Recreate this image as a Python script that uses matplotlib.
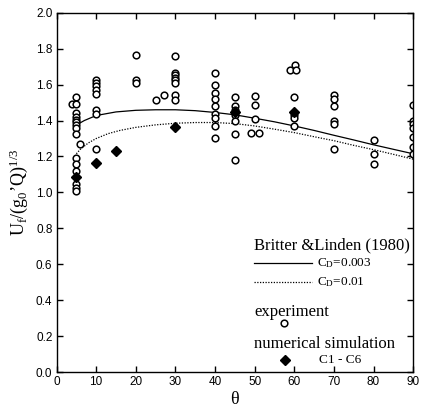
import numpy as np
import matplotlib
matplotlib.use("Agg")
import matplotlib.pyplot as plt

plt.rcParams['font.family'] = ['Liberation Serif', 'DejaVu Serif']
plt.rcParams['mathtext.fontset'] = 'custom'
plt.rcParams['mathtext.rm'] = 'Liberation Serif'
plt.rcParams['mathtext.it'] = 'Liberation Serif:italic'

# experiment (open circles)
exp_theta = [4, 5, 5, 5, 5, 5, 5, 5, 5, 5, 5, 5, 5, 5, 5, 5, 6,
             10, 10, 10, 10, 10, 10, 10, 10,
             20, 20, 20, 25, 27,
             30, 30, 30, 30, 30, 30, 30, 30,
             40, 40, 40, 40, 40, 40, 40, 40, 40,
             45, 45, 45, 45, 45, 45, 45,
             50, 50, 50, 49, 51,
             60.3, 58.8, 60.5, 60, 60, 60, 60,
             70, 70, 70, 70, 70, 70,
             80, 80, 80,
             90, 90, 90, 90, 90, 90, 90]
exp_u = [1.494, 1.533, 1.494, 1.441, 1.419, 1.404, 1.391, 1.377, 1.36, 1.326,
         1.192, 1.159, 1.121, 1.047, 1.025, 1.008, 1.27,
         1.628, 1.609, 1.591, 1.572, 1.55, 1.456, 1.438, 1.239,
         1.767, 1.628, 1.609, 1.512, 1.54,
         1.758, 1.665, 1.652, 1.637, 1.624, 1.609, 1.54, 1.516,
         1.665, 1.596, 1.553, 1.522, 1.479, 1.438, 1.416, 1.367, 1.304,
         1.531, 1.479, 1.456, 1.43, 1.40, 1.326, 1.181,
         1.535, 1.484, 1.406, 1.33, 1.33,
         1.708, 1.682, 1.682, 1.531, 1.43, 1.416, 1.367,
         1.54, 1.52, 1.479, 1.397, 1.382, 1.24,
         1.293, 1.215, 1.159,
         1.484, 1.397, 1.382, 1.36, 1.311, 1.253, 1.213]

# numerical simulation C1 - C6
sim_theta = [5, 10, 15, 30, 45, 60]
sim_u = [1.088, 1.166, 1.23, 1.362, 1.447, 1.447]

# Britter & Linden (1980) curves
bl_theta = [5, 7, 10, 15, 20, 25, 30, 35, 40, 45, 50, 55, 60, 65, 70, 75, 80, 85, 90]
bl_003 = [1.375, 1.40, 1.428, 1.448, 1.457, 1.46, 1.46, 1.455, 1.445, 1.432,
          1.413, 1.393, 1.37, 1.345, 1.318, 1.292, 1.265, 1.24, 1.215]
bl01_theta = [5, 6, 8, 10, 13, 16, 20, 25, 30, 35, 40, 45, 50, 55, 60, 65, 70, 75, 80, 85, 90]
bl_01 = [1.215, 1.24, 1.275, 1.30, 1.327, 1.345, 1.362, 1.376, 1.385, 1.389, 1.389,
         1.383, 1.37, 1.352, 1.333, 1.31, 1.288, 1.262, 1.238, 1.212, 1.185]

fig = plt.figure(figsize=(4.22, 4.12), dpi=100)
ax = fig.add_axes([0.134, 0.097, 0.845, 0.872])

ax.plot(bl_theta, bl_003, '-', color='k', lw=0.9)
ax.plot(bl01_theta, bl_01, color='k', lw=0.9, dashes=(1, 1.2))
ax.plot(exp_theta, exp_u, 'o', mfc='white', mec='k', ms=4.8, mew=1.1, ls='none')
ax.plot(sim_theta, sim_u, 'D', color='k', ms=5.6, ls='none')

ax.set_xlim(0, 90)
ax.set_ylim(0, 2.0)
ax.set_xticks(np.arange(0, 91, 10))
ax.set_yticks(np.arange(0, 2.01, 0.2))
ax.set_yticklabels(['%.1f' % v for v in np.arange(0, 2.01, 0.2)])
ax.tick_params(direction='in', top=True, right=True, length=4.5, width=1,
               labelsize=8.5, pad=3)
for lab in ax.get_xticklabels() + ax.get_yticklabels():
    lab.set_family('Liberation Sans')
for s in ax.spines.values():
    s.set_linewidth(1.0)

ax.set_xlabel('θ', fontsize=13, labelpad=2)
ax.set_ylabel('$\\mathrm{U_f/(g_0\u2019Q)^{1/3}}$', fontsize=13, labelpad=4)

# legend drawn by hand
tr = ax.transAxes
ax.text(0.554, 0.342, 'Britter &Linden (1980)', transform=tr, fontsize=12, va='baseline')
ax.plot([0.554, 0.717], [0.304, 0.304], '-', color='k', lw=0.9, transform=tr)
ax.text(0.730, 0.304, 'C$_\\mathrm{D}$=0.003', transform=tr, fontsize=9.5, va='center')
ax.plot([0.554, 0.717], [0.251, 0.251], color='k', lw=0.9, dashes=(1, 1.2), transform=tr)
ax.text(0.730, 0.251, 'C$_\\mathrm{D}$=0.01', transform=tr, fontsize=9.5, va='center')
ax.text(0.554, 0.157, 'experiment', transform=tr, fontsize=12, va='baseline')
ax.plot([0.638], [0.137], 'o', mfc='white', mec='k', ms=4.8, mew=1.1, transform=tr)
ax.text(0.554, 0.066, 'numerical simulation', transform=tr, fontsize=12, va='baseline')
ax.plot([0.641], [0.033], 'D', color='k', ms=5.6, transform=tr)
ax.text(0.736, 0.033, 'C1 - C6', transform=tr, fontsize=9.5, va='center')

fig.savefig('out.png', dpi=100)
